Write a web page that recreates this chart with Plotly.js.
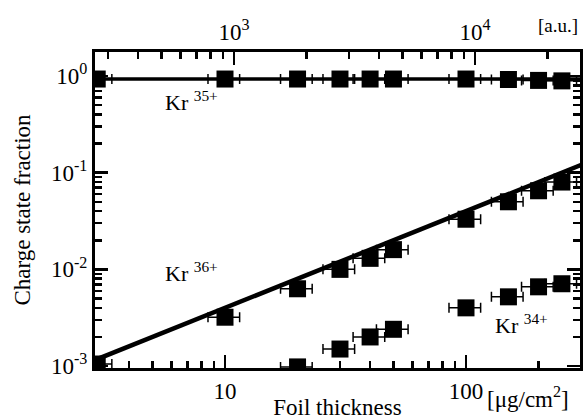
<!DOCTYPE html>
<html>
<head>
<meta charset="utf-8">
<script src="https://cdn.plot.ly/plotly-3.0.1.min.js"></script>
<style>html,body{margin:0;padding:0;background:#fff;}#chart{width:586px;height:420px;}</style>
</head>
<body>
<div id="chart"></div>
<script>
// Foil thickness [ug/cm^2]
const thickness = [2.95, 10, 20, 30, 40, 50, 100, 150, 200, 250];
const kr35 = [0.93, 0.93, 0.93, 0.93, 0.93, 0.93, 0.93, 0.92, 0.9, 0.89];
const kr36 = [0.00105, 0.0032, 0.0063, 0.0100, 0.0130, 0.0160, 0.0330, 0.0500, 0.0650, 0.0800];
const thickness34 = [20, 30, 40, 50, 100, 150, 200, 250];
const kr34 = [0.00098, 0.0015, 0.0020, 0.0024, 0.0040, 0.0052, 0.0066, 0.0071];
const fitX = [2.5, 320];
const fit35 = [0.93, 0.93];
const fit36 = [0.0010, 0.128];
const xErrPercent = 15;
const yTickVals = [1, 0.1, 0.01, 0.001];
const yTickText = ['10<sup>0</sup>', '10<sup>-1</sup>', '10<sup>-2</sup>', '10<sup>-3</sup>'];
const xTickVals = [10, 100];
const xTickText = ['10', '100'];
const topTickVals = [1000, 10000];
const topTickText = ['10<sup>3</sup>', '10<sup>4</sup>'];
const auOffset = 1.963; // log10 shift between a.u. scale and thickness

function minorVals(lo, hi) {
  const v = [];
  for (let e = lo; e <= hi; e++) for (let d = 2; d <= 9; d++) v.push(d * Math.pow(10, e));
  return v;
}

const F = 'Liberation Serif, Times New Roman, serif';
const xr = [0.4606, 2.473];
const errX = {type: 'percent', value: xErrPercent, visible: true, color: 'black', thickness: 1.5, width: 5};
const mk = {symbol: 'square', size: 17, color: 'black'};

const traces = [
  {x: fitX, y: fit35, mode: 'lines', line: {color: 'black', width: 3.5}, showlegend: false, hoverinfo: 'skip'},
  {x: fitX, y: fit36, mode: 'lines', line: {color: 'black', width: 4.5}, showlegend: false, hoverinfo: 'skip'},
  {x: thickness, y: kr35, mode: 'markers', marker: mk, error_x: errX, showlegend: false},
  {x: thickness, y: kr36, mode: 'markers', marker: mk, error_x: errX, showlegend: false},
  {x: thickness34, y: kr34, mode: 'markers', marker: mk, error_x: errX, showlegend: false},
  {x: [1000], y: [0.5], xaxis: 'x2', yaxis: 'y', mode: 'markers', marker: {opacity: 0}, showlegend: false, hoverinfo: 'skip'}
];

const axCommon = {
  type: 'log', showgrid: false, zeroline: false, showline: true, linecolor: 'black', linewidth: 3,
  ticks: 'inside', ticklen: 13, tickwidth: 2.5, tickcolor: 'black',
  tickfont: {family: F, size: 23, color: 'black'}, tickmode: 'array'
};

const layout = {
  width: 586, height: 420,
  margin: {l: 95, r: 6, t: 52, b: 52},
  paper_bgcolor: 'white', plot_bgcolor: 'white',
  font: {family: F, color: 'black'},
  showlegend: false,
  xaxis: Object.assign({}, axCommon, {
    range: xr, tickvals: xTickVals, ticktext: xTickText, mirror: false,
    minor: {tickmode: 'array', tickvals: minorVals(0, 2), ticks: 'inside', ticklen: 7, tickwidth: 2.5, tickcolor: 'black'},
    title: {text: 'Foil thickness', font: {family: F, size: 23, color: 'black'}, standoff: 6}
  }),
  xaxis2: Object.assign({}, axCommon, {
    overlaying: 'x', side: 'top', anchor: 'y',
    range: [xr[0] + auOffset, xr[1] + auOffset], tickvals: topTickVals, ticktext: topTickText,
    minor: {tickmode: 'array', tickvals: minorVals(2, 4), ticks: 'inside', ticklen: 7, tickwidth: 2.5, tickcolor: 'black'}
  }),
  yaxis: Object.assign({}, axCommon, {
    range: [-3.02, 0.248], tickvals: yTickVals, ticktext: yTickText, mirror: 'ticks',
    minor: {tickmode: 'array', tickvals: minorVals(-3, 0), ticks: 'inside', ticklen: 7, tickwidth: 2.5, tickcolor: 'black'},
    title: {text: 'Charge state fraction', font: {family: F, size: 23, color: 'black'}, standoff: 14}
  }),
  annotations: [
    {xref: 'x', yref: 'y', x: 0.743, y: -0.26, xanchor: 'left', yanchor: 'middle', showarrow: false,
     text: 'Kr <sup>35+</sup>', font: {family: F, size: 22, color: 'black'}},
    {xref: 'x', yref: 'y', x: 0.743, y: -2.03, xanchor: 'left', yanchor: 'middle', showarrow: false,
     text: 'Kr <sup>36+</sup>', font: {family: F, size: 22, color: 'black'}},
    {xref: 'x', yref: 'y', x: 2.112, y: -2.56, xanchor: 'left', yanchor: 'middle', showarrow: false,
     text: 'Kr <sup>34+</sup>', font: {family: F, size: 22, color: 'black'}},
    {xref: 'paper', yref: 'paper', x: 0.805, y: -0.04, xanchor: 'left', yanchor: 'top', showarrow: false,
     text: '[μg/cm<sup>2</sup>]', font: {family: F, size: 23, color: 'black'}},
    {xref: 'paper', yref: 'paper', x: 1.0, y: 1.045, xanchor: 'right', yanchor: 'bottom', showarrow: false,
     text: '[a.u.]', font: {family: F, size: 19, color: 'black'}}
  ]
};

Plotly.newPlot('chart', traces, layout, {staticPlot: true, displayModeBar: false});
</script>
</body>
</html>
